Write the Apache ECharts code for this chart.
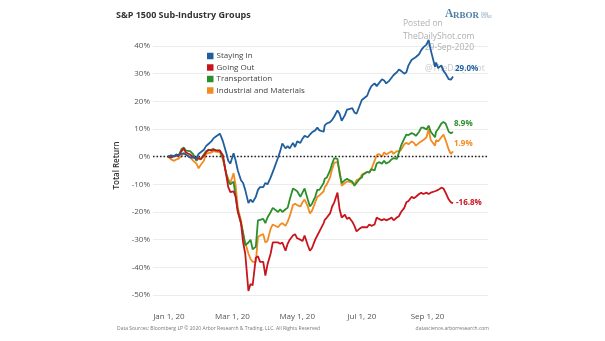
<!DOCTYPE html>
<html>
<head>
<meta charset="utf-8">
<script src="https://cdn.jsdelivr.net/npm/echarts@6/dist/echarts.min.js"></script>
<style>
  html, body { margin: 0; padding: 0; background: #fff; }
  #chart { width: 605px; height: 341px; }
</style>
</head>
<body>
<div id="chart"></div>
<script>
// Sampled trading days (Mon/Wed/Fri, holidays shifted), 2019-12-31 = base
const tradeDates = [
  '2019-12-31','2020-01-03','2020-01-06','2020-01-08','2020-01-10','2020-01-13','2020-01-15','2020-01-17','2020-01-21','2020-01-22',
  '2020-01-24','2020-01-27','2020-01-29','2020-01-31','2020-02-03','2020-02-05','2020-02-07','2020-02-10','2020-02-12','2020-02-14',
  '2020-02-18','2020-02-19','2020-02-21','2020-02-24','2020-02-26','2020-02-28','2020-03-02','2020-03-04','2020-03-06','2020-03-09',
  '2020-03-11','2020-03-13','2020-03-16','2020-03-18','2020-03-20','2020-03-23','2020-03-25','2020-03-27','2020-03-30','2020-04-01',
  '2020-04-03','2020-04-06','2020-04-08','2020-04-09','2020-04-13','2020-04-15','2020-04-17','2020-04-20','2020-04-22','2020-04-24',
  '2020-04-27','2020-04-29','2020-05-01','2020-05-04','2020-05-06','2020-05-08','2020-05-11','2020-05-13','2020-05-15','2020-05-18',
  '2020-05-20','2020-05-22','2020-05-26','2020-05-27','2020-05-29','2020-06-01','2020-06-03','2020-06-05','2020-06-08','2020-06-10',
  '2020-06-12','2020-06-15','2020-06-17','2020-06-19','2020-06-22','2020-06-24','2020-06-26','2020-06-29','2020-07-01','2020-07-02',
  '2020-07-06','2020-07-08','2020-07-10','2020-07-13','2020-07-15','2020-07-17','2020-07-20','2020-07-22','2020-07-24','2020-07-27',
  '2020-07-29','2020-07-31','2020-08-03','2020-08-05','2020-08-07','2020-08-10','2020-08-12','2020-08-14','2020-08-17','2020-08-19',
  '2020-08-21','2020-08-24','2020-08-26','2020-08-28','2020-08-31','2020-09-02','2020-09-04','2020-09-08','2020-09-09','2020-09-11',
  '2020-09-14','2020-09-16','2020-09-18','2020-09-21','2020-09-23','2020-09-25'
];

// Total return, % since 2019-12-31
const stayingIn = [
  0.0, 0.5, 0.2, 0.8, 0.6, 1.0, 1.2, 0.8, -0.3, -0.5,
  -0.3, -0.6, 1.0, 1.6, 2.5, 3.8, 4.5, 5.5, 6.6, 7.2,
  8.3, 7.5, 5.5, 1.5, -1.5, -2.5, 1.2, -1.5, -5.0, -8.5,
  -9.5, -12.0, -16.8, -15.5, -16.5, -14.5, -12.0, -11.0, -11.0, -9.5,
  -10.0, -7.5, -5.5, -4.5, -0.3, 2.0, 4.8, 3.0, 3.8, 3.0,
  5.0, 3.5, 5.5, 5.0, 6.5, 7.5, 7.0, 8.0, 8.8, 9.5,
  10.5, 9.5, 9.0, 11.3, 12.0, 12.5, 13.3, 14.5, 16.7, 15.5,
  13.0, 15.0, 17.0, 17.2, 17.5, 16.0, 15.5, 18.5, 20.5, 21.0,
  22.0, 24.0, 25.5, 26.5, 25.5, 26.5, 28.0, 27.5, 26.5, 27.5,
  28.5, 29.5, 30.5, 31.5, 31.0, 30.0, 30.5, 33.0, 35.0, 35.5,
  36.0, 37.0, 38.5, 39.5, 40.5, 42.2, 38.5, 32.5, 34.0, 32.0,
  33.0, 31.0, 30.0, 28.0, 27.8, 29.0
];
const goingOut = [
  0.0, -0.3, 0.3, 0.5, 0.2, 2.0, 3.0, 1.5, 0.8, 0.5,
  -0.2, -0.8, -0.5, -0.8, 0.3, 1.5, 2.5, 2.2, 2.5, 2.3,
  2.2, 2.0, 0.5, -6.5, -11.0, -12.8, -12.5, -14.5, -20.0, -24.0,
  -31.0, -35.0, -48.5, -46.0, -46.5, -36.5, -36.0, -38.0, -38.0, -43.0,
  -39.0, -35.0, -31.0, -31.5, -31.0, -31.5, -31.0, -34.0, -31.5, -30.0,
  -28.5, -28.0, -29.5, -30.0, -30.5, -28.5, -32.0, -34.0, -33.0, -30.0,
  -28.5, -27.0, -24.0, -22.8, -22.0, -20.5, -18.0, -16.5, -13.0, -19.0,
  -22.0, -21.0, -22.5, -22.0, -23.5, -25.0, -27.0, -26.0, -25.5, -25.0,
  -25.5, -24.5, -25.0, -24.5, -22.0, -22.5, -23.0, -22.5, -23.0, -22.5,
  -22.0, -23.0, -22.0, -21.5, -20.0, -18.5, -16.5, -16.0, -14.5, -15.0,
  -14.5, -13.5, -13.0, -13.5, -13.0, -13.5, -13.0, -12.5, -12.0, -12.0,
  -11.2, -11.5, -13.0, -15.5, -16.5, -16.8
];
const transportation = [
  0.0, -0.3, 0.2, 0.5, 0.3, 2.8, 3.3, 2.2, 2.0, 1.5,
  0.8, -1.5, -0.5, -1.0, 0.8, 2.0, 2.2, 2.5, 2.8, 2.3,
  2.3, 1.8, -0.5, -6.0, -9.0, -10.0, -9.0, -14.5, -19.5, -24.0,
  -27.5, -32.0, -31.0, -30.0, -33.5, -32.5, -23.0, -22.8, -22.5, -24.0,
  -22.0, -20.0, -18.5, -18.0, -20.0, -19.0, -20.0, -19.0, -18.5, -15.5,
  -11.5, -12.0, -12.5, -14.5, -13.0, -11.5, -15.5, -18.0, -17.0, -14.5,
  -12.0, -12.0, -9.5, -8.0, -7.5, -5.0, -2.5, -0.5, -0.8, -6.0,
  -9.5, -8.5, -8.0, -8.5, -9.0, -10.5, -9.5, -8.0, -7.5, -6.5,
  -5.5, -5.8, -4.5, -5.0, -2.5, -2.0, -2.5, -1.5, -2.5, -1.8,
  -1.0, -0.5, -0.8, 1.5, 4.0, 6.5, 8.0, 7.8, 8.5, 8.2,
  7.5, 9.0, 10.5, 10.5, 9.8, 11.2, 9.0, 7.0, 9.0, 10.0,
  12.0, 12.5, 12.0, 9.0, 8.5, 8.9
];
const industrials = [
  0.0, -1.0, -1.5, -1.0, -0.8, 0.5, 1.2, 0.8, -0.2, -0.8,
  -1.5, -2.5, -4.2, -3.0, -1.5, 1.0, 1.3, 1.5, 2.0, 1.8,
  1.6, 1.2, -1.0, -6.0, -8.0, -9.5, -6.0, -10.5, -18.5, -23.0,
  -28.0, -31.0, -35.0, -37.0, -38.0, -38.0, -29.0, -28.5, -28.0, -31.0,
  -30.5, -26.0, -24.5, -24.0, -25.5, -24.5, -24.0, -25.0, -23.5, -21.5,
  -17.5, -17.0, -17.5, -18.0, -16.5, -15.5, -18.0, -20.5, -19.5, -16.5,
  -14.5, -14.0, -12.5, -11.0, -10.0, -7.5, -4.5, -2.2, -2.0, -5.0,
  -10.5, -9.5, -9.0, -9.0, -9.5, -10.0, -8.5, -8.0, -6.5, -6.0,
  -5.5, -5.5, -4.5, -1.5, 0.5, 1.0, 0.0, 1.5, 0.8, 1.5,
  2.0, 1.0, 2.0, 1.8, 2.5, 4.5, 5.0, 4.5, 5.5, 5.0,
  4.0, 5.0, 5.5, 6.0, 7.0, 10.0, 6.0, 4.0, 6.0, 5.5,
  7.0, 8.0, 6.0, 2.5, 1.0, 1.9
];

const seriesNames = ['Staying In', 'Going Out', 'Transportation', 'Industrial and Materials'];
const seriesColors = ['#1f5f9e', '#c8151d', '#2b8f2b', '#f28b20'];
const xLabelDates = ['2020-01-01', '2020-03-01', '2020-05-01', '2020-07-01', '2020-09-01'];
const xRange = ['2019-12-17', '2020-10-28'];
const yMin = -60, yMax = 50, yStep = 10;

const MONTHS = ['Jan','Feb','Mar','Apr','May','Jun','Jul','Aug','Sep','Oct','Nov','Dec'];
const DAY_MS = 86400000;
// x positions are whole days counted from 2020-01-01
function dayIndex(s) {
  const p = s.split('-').map(Number);
  return Math.round((Date.UTC(p[0], p[1] - 1, p[2]) - Date.UTC(2020, 0, 1)) / DAY_MS);
}
function fmtDay(v) {
  const d = new Date(Date.UTC(2020, 0, 1) + Math.round(v) * DAY_MS);
  return MONTHS[d.getUTCMonth()] + ' ' + d.getUTCDate() + ', ' + String(d.getUTCFullYear()).slice(2);
}
function pairs(values) {
  return tradeDates.map((d, i) => [dayIndex(d), values[i]]);
}

const FONT = 'Open Sans';
const valuesByName = {
  'Staying In': stayingIn,
  'Going Out': goingOut,
  'Transportation': transportation,
  'Industrial and Materials': industrials
};
const endOffsets = {
  'Staying In': [0, -7.5],
  'Going Out': [1, 0],
  'Transportation': [-1, -8],
  'Industrial and Materials': [-1, -7.5]
};
// drawing order: orange underneath, blue on top
const drawOrder = ['Industrial and Materials', 'Transportation', 'Going Out', 'Staying In'];

const series = drawOrder.map((name, k) => {
  const color = seriesColors[seriesNames.indexOf(name)];
  const s = {
    name: name,
    type: 'line',
    data: pairs(valuesByName[name]),
    symbol: 'none',
    z: 3 + k,
    lineStyle: { width: 1.8, color: color },
    itemStyle: { color: color },
    emphasis: { disabled: true },
    endLabel: {
      show: true,
      distance: 2,
      offset: endOffsets[name],
      formatter: p => p.value[1].toFixed(1) + '%',
      color: color,
      fontFamily: FONT,
      fontSize: 8,
      fontWeight: 'bold',
      textBorderColor: '#fff',
      textBorderWidth: 2
    }
  };
  if (k === 0) {
    s.markLine = {
      silent: true,
      symbol: 'none',
      label: { show: false },
      lineStyle: { type: [1.5, 2], color: '#222', width: 1.4 },
      data: [{ yAxis: 0 }]
    };
  }
  return s;
});

const chart = echarts.init(document.getElementById('chart'), null, { renderer: 'canvas' });
chart.setOption({
  animation: false,
  backgroundColor: '#fff',
  textStyle: { fontFamily: FONT },
  title: {
    text: 'S&P 1500 Sub-Industry Groups',
    left: 116, top: 11, padding: 0,
    textStyle: { fontFamily: FONT, fontSize: 9, fontWeight: 'bold', color: '#333' }
  },
  legend: {
    data: seriesNames,
    orient: 'vertical',
    left: 207, top: 51,
    padding: 0,
    icon: 'rect',
    itemWidth: 6.5, itemHeight: 6.5,
    itemGap: 1.5,
    selectedMode: false,
    textStyle: { fontFamily: FONT, fontSize: 8, color: '#444', lineHeight: 10, padding: [0, 0, 0, -2] }
  },
  grid: { left: 153, right: 117, top: 18.3, bottom: 18.3, containLabel: false },
  xAxis: {
    type: 'value',
    min: dayIndex(xRange[0]),
    max: dayIndex(xRange[1]),
    offset: -15,
    axisLine: { show: false },
    axisTick: { show: false },
    splitLine: { show: false },
    axisLabel: {
      customValues: xLabelDates.map(dayIndex),
      formatter: fmtDay,
      margin: 5,
      fontFamily: FONT, fontSize: 8, color: '#555'
    }
  },
  yAxis: {
    type: 'value',
    min: yMin, max: yMax, interval: yStep,
    name: 'Total Return',
    nameLocation: 'middle',
    nameGap: 19,
    nameTextStyle: { fontFamily: FONT, fontSize: 8, color: '#333', fontWeight: 600, padding: [0, 0, 0, 10] },
    axisLine: { show: false },
    axisTick: { show: false },
    axisLabel: {
      margin: 3,
      fontFamily: FONT, fontSize: 8, color: '#555',
      formatter: v => (v === yMin || v === yMax) ? '' : v + '%'
    },
    splitLine: {
      showMinLine: false, showMaxLine: false,
      lineStyle: { color: '#ececec', width: 1 }
    }
  },
  graphic: [
    { type: 'text', z: 1, style: { x: 403, y: 24, text: 'Posted on', textAlign: 'left', textVerticalAlign: 'middle', fontFamily: FONT, fontSize: 8.5, fill: '#b0b0b0' } },
    { type: 'text', z: 1, style: { x: 403, y: 37, text: 'TheDailyShot.com', textAlign: 'left', textVerticalAlign: 'middle', fontFamily: FONT, fontSize: 8.5, fill: '#b0b0b0' } },
    { type: 'text', z: 1, style: { x: 474, y: 48, text: '29-Sep-2020', textAlign: 'right', textVerticalAlign: 'middle', fontFamily: FONT, fontSize: 8.5, fill: '#b0b0b0' } },
    { type: 'text', z: 1, style: { x: 425, y: 69, text: '@TheDailyShot', textAlign: 'left', textVerticalAlign: 'middle', fontFamily: FONT, fontSize: 8.5, fill: '#c8c8c8' } },
    { type: 'text', style: { x: 445, y: 20, text: 'A', textAlign: 'left', textVerticalAlign: 'bottom', fontFamily: 'Liberation Serif', fontSize: 11.5, fontWeight: 'bold', fill: '#4f7fa6' } },
    { type: 'text', style: { x: 453, y: 20, text: 'RBOR', textAlign: 'left', textVerticalAlign: 'bottom', fontFamily: 'Liberation Serif', fontSize: 9, fontWeight: 'bold', fill: '#4f7fa6' } },
    { type: 'text', style: { x: 481, y: 12.5, text: 'DATA\nSCIENCE', textAlign: 'left', textVerticalAlign: 'top', fontFamily: FONT, fontSize: 2.8, lineHeight: 3.2, fill: '#7b98b3' } },
    { type: 'text', style: { x: 117, y: 329, text: 'Data Sources: Bloomberg LP \u00a9 2020 Arbor Research & Trading, LLC. All Rights Reserved', textAlign: 'left', textVerticalAlign: 'middle', fontFamily: FONT, fontSize: 5, fill: '#777' } },
    { type: 'text', style: { x: 489, y: 329, text: 'datascience.arborresearch.com', textAlign: 'right', textVerticalAlign: 'middle', fontFamily: FONT, fontSize: 5, fill: '#777' } }
  ],
  series: series
});
</script>
</body>
</html>
